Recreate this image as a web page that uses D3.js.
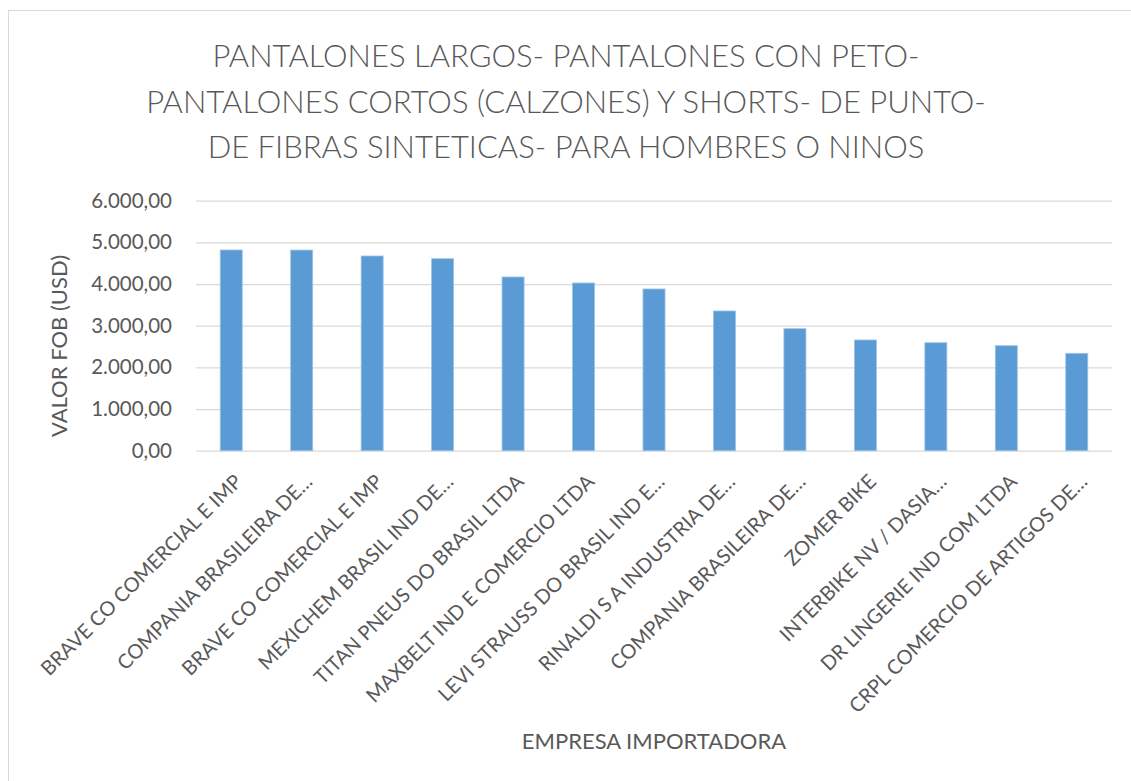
<!DOCTYPE html>
<html>
<head>
<meta charset="utf-8">
<script src="https://cdn.jsdelivr.net/npm/d3@7"></script>
<style>
  body { margin: 0; background: #fff; }
  svg text { font-family: Lato, "Open Sans", sans-serif; fill: #595959; }
</style>
</head>
<body>
<div id="chart"></div>
<script>
var titleLines = [
    "PANTALONES LARGOS- PANTALONES CON PETO-",
    "PANTALONES CORTOS (CALZONES) Y SHORTS- DE PUNTO-",
    "DE FIBRAS SINTETICAS- PARA HOMBRES O NINOS"
];
var empresas = [
    "BRAVE CO COMERCIAL E IMP",
    "COMPANIA BRASILEIRA DE…",
    "BRAVE CO COMERCIAL E IMP ",
    "MEXICHEM BRASIL IND DE…",
    "TITAN PNEUS DO BRASIL LTDA",
    "MAXBELT IND E COMERCIO LTDA",
    "LEVI STRAUSS DO BRASIL IND E…",
    "RINALDI S A INDUSTRIA DE…",
    "COMPANIA BRASILEIRA DE… ",
    "ZOMER BIKE",
    "INTERBIKE NV / DASIA…",
    "DR LINGERIE IND COM LTDA",
    "CRPL COMERCIO DE ARTIGOS DE…"
];
var valorFob = [4817, 4815, 4673, 4608, 4169, 4025, 3881, 3353, 2928, 2657, 2592, 2520, 2337];
var yTicks = [0, 1000, 2000, 3000, 4000, 5000, 6000];

var width = 1131, height = 781;
var margin = {top: 200.7, bottom: 330.3, left: 196, right: 19};

var svg = d3.select("#chart")
    .append("svg")
    .attr("width", width)
    .attr("height", height);

// chart frame
svg.append("rect")
    .attr("x", 8.5).attr("y", 10.5)
    .attr("width", 1140).attr("height", 800)
    .attr("fill", "none")
    .attr("stroke", "#D9D9D9")
    .attr("stroke-width", 1);

var xScale = d3.scaleBand()
    .domain(empresas)
    .range([margin.left, width - margin.right])
    .paddingInner(0.6875)
    .paddingOuter(0.34375);

var yScale = d3.scaleLinear()
    .domain([0, 6000])
    .range([height - margin.bottom, margin.top]);

// 6.000,00 style numbers
var fmt = function(v) {
    return d3.format(",.2f")(v).replace(/,/g, "#").replace(".", ",").replace(/#/g, ".");
};

// gridlines + y labels
var yAxis = svg.append("g")
    .attr("transform", `translate(${margin.left}, 0)`)
    .call(d3.axisLeft(yScale).tickValues(yTicks).tickFormat(fmt)
        .tickSize(-(width - margin.right - margin.left)).tickPadding(24));
yAxis.select(".domain").remove();
yAxis.selectAll("line").attr("stroke", "#D9D9D9").attr("stroke-width", 1.3);
yAxis.selectAll("text")
    .style("font-size", "20.5px")
    .attr("fill", "#595959");

// bars
svg.selectAll(".bar")
    .data(valorFob)
    .enter()
    .append("rect")
    .attr("class", "bar")
    .attr("x", function(d, i) { return xScale(empresas[i]); })
    .attr("y", function(d) { return yScale(d); })
    .attr("width", xScale.bandwidth())
    .attr("height", function(d) { return yScale(0) - yScale(d); })
    .attr("fill", "#5B9BD5")
    .attr("stroke", "#9DC3E6")
    .attr("stroke-width", 0.8);

// x labels
svg.append("g")
    .selectAll("text")
    .data(empresas)
    .enter()
    .append("text")
    .attr("transform", function(d) {
        return `translate(${xScale(d) + xScale.bandwidth() / 2 + 7}, 478) rotate(-45)`;
    })
    .attr("text-anchor", "end")
    .attr("dy", "0.35em")
    .style("font-size", "20px")
    .text(function(d) { return d.trim(); });

// title
svg.append("g")
    .selectAll("text")
    .data(titleLines)
    .enter()
    .append("text")
    .attr("x", 566)
    .attr("y", function(d, i) { return 66.7 + i * 45.8; })
    .attr("text-anchor", "middle")
    .style("font-size", "31px")
    .style("font-weight", 300)
    .text(function(d) { return d; });

// axis titles
svg.append("text")
    .attr("transform", "translate(67, 346) rotate(-90)")
    .attr("text-anchor", "middle")
    .style("font-size", "22px")
    .text("VALOR FOB (USD)");

svg.append("text")
    .attr("x", 654)
    .attr("y", 749)
    .attr("text-anchor", "middle")
    .style("font-size", "22px")
    .text("EMPRESA IMPORTADORA");
</script>
</body>
</html>
